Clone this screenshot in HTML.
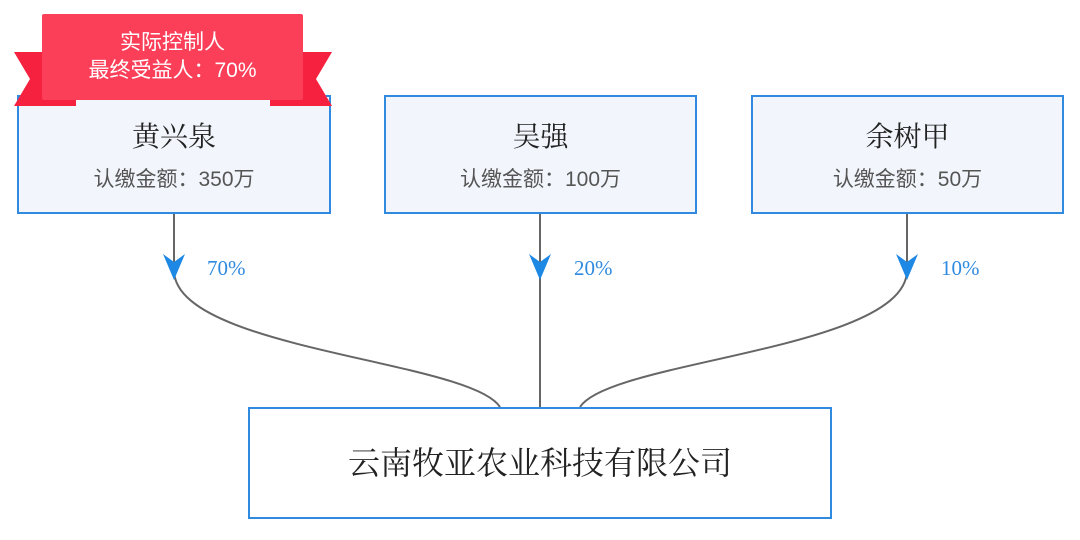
<!DOCTYPE html>
<html><head><meta charset="utf-8"><style>
body{margin:0;width:1080px;height:540px;background:#fff;position:relative;overflow:hidden;font-family:"Liberation Sans","Noto Sans CJK SC",sans-serif}
.box{position:absolute;background:#f2f6fc;border:2px solid #2f8ae0;box-sizing:border-box;text-align:center}
.n{font-family:"Liberation Serif","Noto Serif CJK SC",serif;font-size:28px;color:#222;margin-top:24px;line-height:34px}
.s{font-size:21px;color:#555;margin-top:8px}
.p{position:absolute;color:#2f8ae0;font-family:"Liberation Serif",serif;font-size:21px}
</style></head><body>
<svg width="1080" height="540" style="position:absolute;left:0;top:0">
<g fill="none" stroke="#666" stroke-width="2">
<path d="M174 213 V270 C174 350 470 360 500 407"/>
<path d="M540 213 V407"/>
<path d="M907 213 V270 C907 350 610 360 580 407"/>
</g>
<g fill="#1e88e5">
<path d="M163 254 L174 262 L185 254 L174 280Z"/>
<path d="M529 254 L540 262 L551 254 L540 280Z"/>
<path d="M896 254 L907 262 L918 254 L907 280Z"/>
</g>
</svg>
<div class="box" style="left:17px;top:95px;width:314px;height:119px"><div class="n">黄兴泉</div><div class="s">认缴金额：350万</div></div>
<div class="box" style="left:384px;top:95px;width:313px;height:119px"><div class="n">吴强</div><div class="s">认缴金额：100万</div></div>
<div class="box" style="left:751px;top:95px;width:313px;height:119px"><div class="n">余树甲</div><div class="s">认缴金额：50万</div></div>
<div class="box" style="left:248px;top:407px;width:584px;height:112px;background:#fff"><div class="n" style="margin-top:37px;font-size:32px">云南牧亚农业科技有限公司</div></div>
<div class="p" style="left:207px;top:256px">70%</div>
<div class="p" style="left:574px;top:256px">20%</div>
<div class="p" style="left:941px;top:256px">10%</div>
<svg width="1080" height="120" style="position:absolute;left:0;top:0">
<polygon points="14,52 76,52 76,106 14,106 30,79" fill="#f5213f"/>
<polygon points="332,52 270,52 270,106 332,106 316,79" fill="#f5213f"/>
<rect x="42" y="14" width="261" height="86" rx="2" fill="#fb3f58"/>
</svg>
<div style="position:absolute;left:42px;top:29px;width:261px;text-align:center;color:#fff;font-size:21px;line-height:28px">实际控制人<br>最终受益人：70%</div>
</body></html>
